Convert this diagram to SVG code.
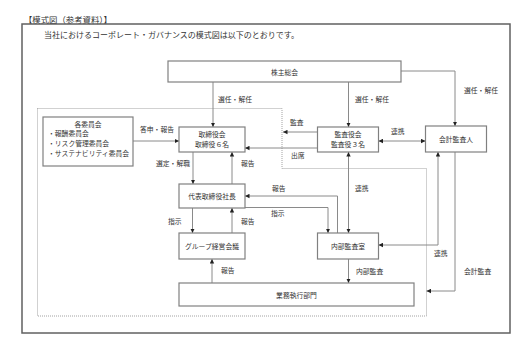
<svg xmlns="http://www.w3.org/2000/svg" width="522" height="349" viewBox="0 0 522 349">
<defs>
<style>
text{font-family:"Noto Sans CJK JP","Noto Sans",sans-serif;fill:#333;}
.lbl{font-size:6.8px;dominant-baseline:central;}
.box{fill:#fff;stroke:#808080;stroke-width:1.2;}
.ln{fill:none;stroke:#8a8a8a;stroke-width:1;}
.dot{fill:none;stroke:#8a8a8a;stroke-width:0.8;stroke-dasharray:1 1;}
.c{text-anchor:middle;}
</style>
<marker id="ah" markerUnits="userSpaceOnUse" markerWidth="5" markerHeight="5" refX="4.5" refY="2.5" orient="auto-start-reverse">
<path d="M0,0.3 L4.5,2.5 L0,4.7 z" fill="#222"/>
</marker>
</defs>
<rect width="522" height="349" fill="#fff"/>
<text x="24" y="19" style="font-size:8.4px;dominant-baseline:central;">【模式図（参考資料）】</text>
<rect x="22" y="24" width="488" height="309" fill="none" stroke="#606060" stroke-width="1.5"/>
<text x="44" y="34.5" style="font-size:8px;dominant-baseline:central;">当社におけるコーポレート・ガバナンスの模式図は以下のとおりです。</text>
<path class="dot" d="M37.5,108.5 H282 V168.5 H426.5 V316 H37.5 Z"/>

<g id="connectors">
<path class="ln" d="M213,82 V127" marker-end="url(#ah)"/>
<path class="ln" d="M348.5,82 V127" marker-end="url(#ah)"/>
<path class="ln" d="M401,71 H455 V126" marker-end="url(#ah)"/>
<path class="ln" d="M133,141 H179" marker-end="url(#ah)"/>
<path class="ln" d="M193,152 V184" marker-end="url(#ah)"/>
<path class="ln" d="M232,184 V152" marker-end="url(#ah)"/>
<path class="ln" d="M317.5,132 H283" marker-end="url(#ah)"/>
<path class="ln" d="M317.5,148 H245" marker-end="url(#ah)"/>
<path class="ln" d="M378.5,141 H425.5" marker-start="url(#ah)" marker-end="url(#ah)"/>
<path class="ln" d="M337.5,233 V196 H245" marker-end="url(#ah)"/>
<path class="ln" d="M245,207.5 H328 V233" marker-end="url(#ah)"/>
<path class="ln" d="M348.5,152 V233" marker-start="url(#ah)" marker-end="url(#ah)"/>
<path class="ln" d="M438,152 V245 H378.5" marker-start="url(#ah)" marker-end="url(#ah)"/>
<path class="ln" d="M455,152 V291 H426.5" marker-end="url(#ah)"/>
<path class="ln" d="M192.5,208 V233" marker-end="url(#ah)"/>
<path class="ln" d="M232,233 V208" marker-end="url(#ah)"/>
<path class="ln" d="M212,283 V259" marker-end="url(#ah)"/>
<path class="ln" d="M348.5,259 V283" marker-end="url(#ah)"/>
<text class="lbl" x="218" y="99">選任・解任</text>
<text class="lbl" x="355" y="99">選任・解任</text>
<text class="lbl" x="464" y="90">選任・解任</text>
<text class="lbl" x="140" y="129">答申・報告</text>
<text class="lbl" x="156" y="163">選定・解職</text>
<text class="lbl" x="241" y="163">報告</text>
<text class="lbl" x="290" y="122">監査</text>
<text class="lbl" x="291" y="155">出席</text>
<text class="lbl" x="391" y="131">連携</text>
<text class="lbl" x="272" y="188">報告</text>
<text class="lbl" x="271" y="213">指示</text>
<text class="lbl" x="355" y="188">連携</text>
<text class="lbl" x="168" y="221">指示</text>
<text class="lbl" x="241" y="221">報告</text>
<text class="lbl" x="221" y="270">報告</text>
<text class="lbl" x="356" y="271">内部監査</text>
<text class="lbl" x="434" y="253">連携</text>
<text class="lbl" x="464" y="271">会計監査</text>
</g>

<g id="shareholders">
<rect class="box" x="168" y="61" width="233" height="21"/>
<text class="lbl c" x="284.5" y="71.5">株主総会</text>
</g>
<g id="committees">
<rect class="box" x="43" y="117" width="90" height="49"/>
<text class="lbl c" x="88" y="124">各委員会</text>
<text class="lbl" x="48" y="133.3">・報酬委員会</text>
<text class="lbl" x="48" y="142.8">・リスク管理委員会</text>
<text class="lbl" x="48" y="152.6">・サステナビリティ委員会</text>
</g>
<g id="board">
<rect class="box" x="179" y="127" width="66" height="25"/>
<text class="lbl c" x="212" y="134">取締役会</text>
<text class="lbl c" x="212" y="144">取締役６名</text>
</g>
<g id="auditors">
<rect class="box" x="317.5" y="127" width="61" height="25"/>
<text class="lbl c" x="348" y="134">監査役会</text>
<text class="lbl c" x="348" y="144">監査役３名</text>
</g>
<g id="accounting-auditor">
<rect class="box" x="425.5" y="126" width="61" height="26"/>
<text class="lbl c" x="456" y="139">会計監査人</text>
</g>
<g id="president">
<rect class="box" x="179" y="184" width="66" height="24"/>
<text class="lbl c" x="212" y="196">代表取締役社長</text>
</g>
<g id="group-meeting">
<rect class="box" x="179" y="233" width="66" height="26"/>
<text class="lbl c" x="212" y="246">グループ経営会議</text>
</g>
<g id="internal-audit">
<rect class="box" x="317.5" y="233" width="61" height="26"/>
<text class="lbl c" x="348" y="246">内部監査室</text>
</g>
<g id="operations">
<rect class="box" x="179" y="283" width="235" height="23"/>
<text class="lbl c" x="296.5" y="294.5">業務執行部門</text>
</g>
</svg>
